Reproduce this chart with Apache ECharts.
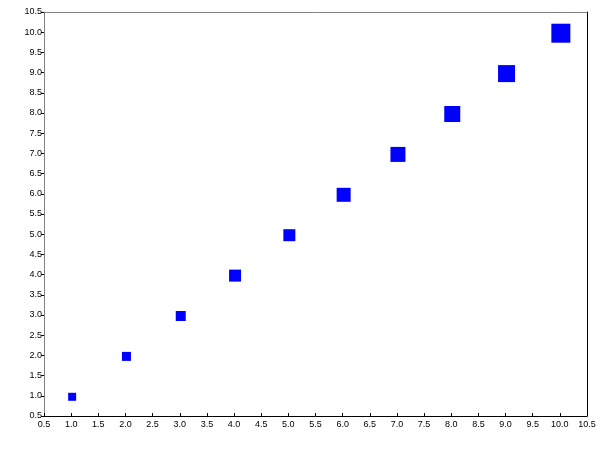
<!DOCTYPE html>
<html><head><meta charset="utf-8">
<script src="https://cdn.jsdelivr.net/npm/echarts@6/dist/echarts.min.js"></script>
<style>html,body{margin:0;padding:0;background:#fff}#c{width:600px;height:450px}</style>
</head><body><div id="c"></div>
<script>
const xValues = [1, 2, 3, 4, 5, 6, 7, 8, 9, 10];
const yValues = [1, 2, 3, 4, 5, 6, 7, 8, 9, 10];
const markerSizes = [8, 9, 10, 12, 12, 14, 15, 16, 17, 19];

const chart = echarts.init(document.getElementById('c'), null, {renderer: 'canvas'});
const fmt = v => v.toFixed(1);
const labelStyle = {color: '#000', fontSize: 9, fontFamily: 'Liberation Sans, Arial, sans-serif', formatter: fmt};
chart.setOption({
  animation: false,
  grid: {left: 44, right: 13, top: 12, bottom: 34, containLabel: false},
  xAxis: [{
    type: 'value', min: 0.5, max: 10.5, interval: 0.5, position: 'bottom',
    axisLine: {lineStyle: {color: '#000', width: 1}},
    axisTick: {inside: true, length: 3, lineStyle: {color: '#000'}},
    axisLabel: Object.assign({margin: 4}, labelStyle),
    splitLine: {show: false}
  }, {
    type: 'value', min: 0.5, max: 10.5, interval: 0.5, position: 'top',
    axisLine: {lineStyle: {color: '#808080', width: 1}},
    axisTick: {show: false}, axisLabel: {show: false}, splitLine: {show: false}
  }],
  yAxis: [{
    type: 'value', min: 0.5, max: 10.5, interval: 0.5, position: 'left',
    axisLine: {lineStyle: {color: '#808080', width: 1}},
    axisTick: {inside: false, length: 3, lineStyle: {color: '#000'}},
    axisLabel: Object.assign({margin: 2}, labelStyle),
    splitLine: {show: false}
  }, {
    type: 'value', min: 0.5, max: 10.5, interval: 0.5, position: 'right',
    axisLine: {lineStyle: {color: '#000', width: 1}},
    axisTick: {show: false}, axisLabel: {show: false}, splitLine: {show: false}
  }],
  series: [{
    type: 'scatter',
    symbol: 'rect',
    symbolOffset: [1, 1],
    data: xValues.map((x, i) => [x, yValues[i], markerSizes[i]]),
    symbolSize: d => d[2],
    itemStyle: {color: '#0000ff', opacity: 1}
  }]
});
</script></body></html>
